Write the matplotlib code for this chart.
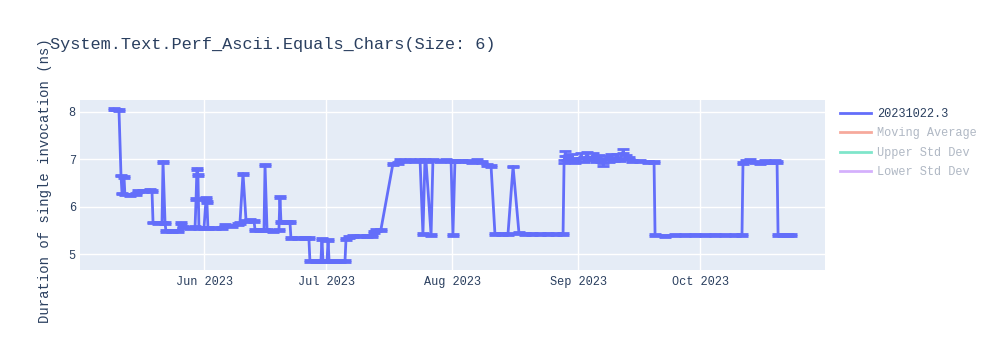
import matplotlib
matplotlib.use("Agg")
import matplotlib.pyplot as plt
import matplotlib.dates as mdates
from matplotlib.lines import Line2D
import pandas as pd

# ---------- data ----------
dates = [
    "2023-05-09 20:00", "2023-05-10 08:00", "2023-05-11 02:00", "2023-05-11 14:00", "2023-05-11 20:00", "2023-05-12 08:00", "2023-05-12 13:00", "2023-05-13 19:00",
    "2023-05-15 06:00", "2023-05-15 18:00", "2023-05-17 00:00", "2023-05-18 17:00", "2023-05-19 05:00", "2023-05-19 11:00", "2023-05-20 16:00", "2023-05-21 16:00",
    "2023-05-21 22:00", "2023-05-22 10:00", "2023-05-22 15:00", "2023-05-24 03:00", "2023-05-25 14:00", "2023-05-26 08:00", "2023-05-26 20:00", "2023-05-28 13:00",
    "2023-05-29 19:00", "2023-05-30 01:00", "2023-05-30 06:00", "2023-05-30 12:00", "2023-05-30 18:00", "2023-06-01 00:00", "2023-06-01 12:00", "2023-06-01 17:00",
    "2023-06-01 23:00", "2023-06-03 17:00", "2023-06-05 10:00", "2023-06-06 04:00", "2023-06-07 21:00", "2023-06-09 08:00", "2023-06-09 20:00", "2023-06-10 14:00",
    "2023-06-11 08:00", "2023-06-12 07:00", "2023-06-13 07:00", "2023-06-13 13:00", "2023-06-14 18:00", "2023-06-15 18:00", "2023-06-16 00:00", "2023-06-16 12:00",
    "2023-06-17 23:00", "2023-06-19 10:00", "2023-06-19 16:00", "2023-06-19 22:00", "2023-06-21 10:00", "2023-06-22 03:00", "2023-06-22 09:00", "2023-06-24 03:00",
    "2023-06-25 20:00", "2023-06-26 19:00", "2023-06-27 01:00", "2023-06-28 13:00", "2023-06-29 18:00", "2023-06-30 00:00", "2023-06-30 06:00", "2023-07-01 06:00",
    "2023-07-01 12:00", "2023-07-01 18:00", "2023-07-03 05:00", "2023-07-04 10:00", "2023-07-05 16:00", "2023-07-05 22:00", "2023-07-06 16:00", "2023-07-07 15:00",
    "2023-07-09 09:00", "2023-07-11 02:00", "2023-07-12 07:00", "2023-07-12 19:00", "2023-07-13 07:00", "2023-07-14 12:00", "2023-07-17 11:00", "2023-07-18 17:00",
    "2023-07-19 05:00", "2023-07-20 10:00", "2023-07-21 16:00", "2023-07-22 21:00", "2023-07-24 03:00", "2023-07-24 20:00", "2023-07-25 08:00", "2023-07-25 14:00",
    "2023-07-26 20:00", "2023-07-27 07:00", "2023-07-29 01:00", "2023-07-30 12:00", "2023-07-31 18:00", "2023-08-01 05:00", "2023-08-01 17:00", "2023-08-03 11:00",
    "2023-08-04 22:00", "2023-08-05 22:00", "2023-08-07 03:00", "2023-08-08 09:00", "2023-08-09 14:00", "2023-08-10 14:00", "2023-08-11 13:00", "2023-08-13 07:00",
    "2023-08-14 18:00", "2023-08-16 00:00", "2023-08-17 11:00", "2023-08-18 22:00", "2023-08-20 16:00", "2023-08-22 15:00", "2023-08-24 14:00", "2023-08-26 13:00",
    "2023-08-28 07:00", "2023-08-28 13:00", "2023-08-28 19:00", "2023-08-29 06:00", "2023-08-29 18:00", "2023-08-30 12:00", "2023-08-31 06:00", "2023-08-31 23:00",
    "2023-09-01 17:00", "2023-09-02 11:00", "2023-09-03 04:00", "2023-09-03 22:00", "2023-09-04 16:00", "2023-09-05 10:00", "2023-09-06 03:00", "2023-09-06 15:00",
    "2023-09-07 03:00", "2023-09-07 21:00", "2023-09-08 14:00", "2023-09-09 02:00", "2023-09-09 20:00", "2023-09-10 13:00", "2023-09-11 07:00", "2023-09-12 01:00",
    "2023-09-12 19:00", "2023-09-13 12:00", "2023-09-14 06:00", "2023-09-16 05:00", "2023-09-18 04:00", "2023-09-19 16:00", "2023-09-19 22:00", "2023-09-22 09:00",
    "2023-09-24 20:00", "2023-09-27 07:00", "2023-09-29 18:00", "2023-10-02 05:00", "2023-10-04 16:00", "2023-10-07 03:00", "2023-10-09 14:00", "2023-10-11 07:00",
    "2023-10-11 13:00", "2023-10-12 07:00", "2023-10-13 07:00", "2023-10-14 12:00", "2023-10-15 18:00", "2023-10-16 23:00", "2023-10-18 05:00", "2023-10-19 10:00",
    "2023-10-19 22:00", "2023-10-20 04:00", "2023-10-21 09:00", "2023-10-22 15:00", "2023-10-23 09:00",
]

durations = [
    8.06, 8.05, 8.04, 6.66, 6.28, 6.62, 6.26, 6.25,
    6.27, 6.33, 6.34, 6.36, 6.33, 5.67, 5.66, 5.67,
    6.95, 5.66, 5.50, 5.49, 5.50, 5.66, 5.57, 5.56,
    5.57, 6.16, 6.80, 6.68, 5.56, 5.56, 6.18, 6.11,
    5.56, 5.55, 5.56, 5.61, 5.60, 5.63, 5.66, 6.70,
    5.71, 5.72, 5.70, 5.52, 5.51, 5.51, 6.88, 5.51,
    5.50, 5.51, 6.20, 5.69, 5.68, 5.69, 5.34, 5.34,
    5.34, 5.34, 4.86, 4.86, 4.86, 5.32, 4.86, 4.86,
    5.31, 4.86, 4.86, 4.86, 4.86, 5.33, 5.37, 5.39,
    5.38, 5.38, 5.39, 5.47, 5.52, 5.52, 6.91, 6.92,
    6.99, 6.97, 6.99, 6.97, 6.98, 5.42, 6.99, 6.97,
    5.41, 6.98, 6.97, 6.98, 6.97, 5.41, 6.97, 6.97,
    6.96, 6.95, 6.98, 6.94, 6.88, 6.86, 5.43, 5.43,
    5.43, 6.85, 5.44, 5.43, 5.43, 5.42, 5.43, 5.42,
    5.43, 6.96, 7.12, 7.03, 6.98, 7.06, 6.97, 7.00,
    7.08, 6.99, 7.10, 7.02, 7.09, 6.98, 7.05, 6.97,
    6.90, 7.04, 6.98, 7.07, 7.00, 7.06, 6.99, 7.17,
    7.05, 7.03, 6.97, 6.96, 6.95, 6.95, 5.40, 5.39,
    5.40, 5.40, 5.41, 5.40, 5.41, 5.40, 5.40, 5.40,
    6.93, 6.96, 6.97, 6.94, 6.93, 6.96, 6.95, 6.96,
    6.95, 5.40, 5.40, 5.40, 5.40,
]

errors = [
    0.02, 0.02, 0.02, 0.02, 0.02, 0.02, 0.02, 0.02,
    0.02, 0.02, 0.02, 0.02, 0.02, 0.02, 0.02, 0.02,
    0.02, 0.02, 0.02, 0.02, 0.02, 0.02, 0.02, 0.02,
    0.02, 0.02, 0.02, 0.02, 0.02, 0.02, 0.02, 0.02,
    0.02, 0.02, 0.02, 0.02, 0.02, 0.02, 0.02, 0.02,
    0.02, 0.02, 0.02, 0.02, 0.02, 0.02, 0.02, 0.02,
    0.02, 0.02, 0.02, 0.02, 0.02, 0.02, 0.02, 0.02,
    0.02, 0.02, 0.02, 0.02, 0.02, 0.02, 0.02, 0.02,
    0.02, 0.02, 0.02, 0.02, 0.02, 0.02, 0.02, 0.02,
    0.02, 0.02, 0.02, 0.02, 0.02, 0.02, 0.02, 0.02,
    0.02, 0.02, 0.02, 0.02, 0.02, 0.02, 0.02, 0.02,
    0.02, 0.02, 0.02, 0.02, 0.02, 0.02, 0.02, 0.02,
    0.02, 0.02, 0.02, 0.02, 0.02, 0.02, 0.02, 0.02,
    0.02, 0.02, 0.02, 0.02, 0.02, 0.02, 0.02, 0.02,
    0.02, 0.03, 0.05, 0.04, 0.03, 0.05, 0.04, 0.03,
    0.05, 0.04, 0.05, 0.03, 0.05, 0.04, 0.05, 0.03,
    0.03, 0.04, 0.03, 0.05, 0.04, 0.05, 0.03, 0.04,
    0.04, 0.03, 0.02, 0.02, 0.02, 0.02, 0.02, 0.02,
    0.02, 0.02, 0.02, 0.02, 0.02, 0.02, 0.02, 0.02,
    0.02, 0.02, 0.03, 0.02, 0.02, 0.03, 0.02, 0.02,
    0.02, 0.02, 0.02, 0.02, 0.02,
]

legend_labels = ["20231022.3", "Moving Average", "Upper Std Dev", "Lower Std Dev"]
legend_colors = ["#636efa", "#EF553B", "#00CC96", "#AB63FA"]
title = "System.Text.Perf_Ascii.Equals_Chars(Size: 6)"
ylabel = "Duration of single invocation (ns)"

# ---------- plot ----------
font = "Liberation Mono"
text_color = "#2a3f5f"
plt.rcParams["font.family"] = [font, "DejaVu Sans"]

x = pd.to_datetime(dates)

fig = plt.figure(figsize=(10, 3.5), dpi=100)
ax = fig.add_axes([0.08, 1 - 270 / 350, 0.745, 170 / 350])
ax.set_facecolor("#E5ECF6")

ax.errorbar(x, durations, yerr=errors, color=legend_colors[0], lw=2,
            elinewidth=2, capsize=4, capthick=2, zorder=3)

ax.set_xlim(pd.Timestamp("2023-05-01 12:00"), pd.Timestamp("2023-10-31 17:00"))
ax.set_ylim(4.67, 8.25)
ax.set_yticks([5, 6, 7, 8])
ax.xaxis.set_major_locator(mdates.MonthLocator(bymonth=[6, 7, 8, 9, 10]))
ax.xaxis.set_major_formatter(mdates.DateFormatter("%b %Y"))
ax.grid(True, color="white", lw=1, zorder=0)
ax.set_axisbelow(True)
for s in ax.spines.values():
    s.set_visible(False)
ax.tick_params(length=0, labelsize=8.6, labelcolor=text_color)
ax.tick_params(axis="x", pad=4)
ax.tick_params(axis="y", pad=3)

fig.text(0.05, 1 - 45 / 350, title, fontsize=12.2, color=text_color, va="center", ha="left")
fig.text(0.045, 1 - 181 / 350, ylabel, fontsize=10, color=text_color,
         rotation=90, va="center", ha="center")

handles = []
for i, c in enumerate(legend_colors):
    handles.append(Line2D([0], [0], color=c, lw=2, alpha=1.0 if i == 0 else 0.5))
leg = fig.legend(handles, legend_labels, loc="upper left",
                 bbox_to_anchor=(0.84, 1 - 108 / 350), frameon=False,
                 fontsize=8.6, handlelength=2.6, handletextpad=0.5,
                 labelspacing=0.62, borderaxespad=0, borderpad=0)
for i, t in enumerate(leg.get_texts()):
    t.set_color(text_color if i == 0 else "#b0b8c4")

fig.savefig("out.png", dpi=100)
